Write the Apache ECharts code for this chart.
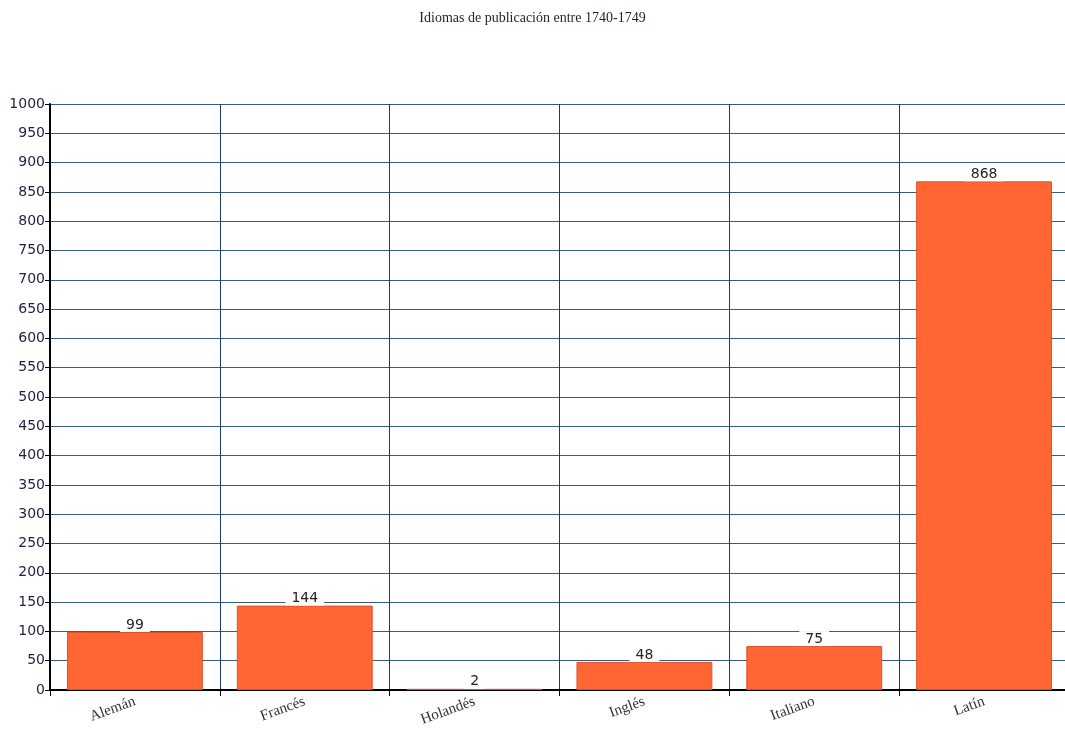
<!DOCTYPE html>
<html>
<head>
<meta charset="utf-8">
<script src="https://cdn.jsdelivr.net/npm/echarts@6/dist/echarts.min.js"></script>
<style>html,body{margin:0;padding:0;background:#fff}#main{width:1065px;height:729px}</style>
</head>
<body>
<div id="main"></div>
<script>
// datos del gráfico
var idiomas = ['Alemán', 'Francés', 'Holandés', 'Inglés', 'Italiano', 'Latín'];
var publicaciones = [99, 144, 2, 48, 75, 868];
var titulo = 'Idiomas de publicación entre 1740-1749';

var myChart = echarts.init(document.getElementById('main'));
var option = {
    animation: false,
    title: {
        text: titulo,
        left: 'center',
        top: 6,
        textStyle: { fontFamily: 'Liberation Serif', fontWeight: 'normal', fontSize: 14, color: '#2a1a2e' }
    },
    grid: { left: 50, top: 104, width: 1019, height: 586, outerBoundsMode: 'none' },
    xAxis: {
        type: 'category',
        data: idiomas,
        axisLine: { lineStyle: { color: '#000', width: 2 } },
        axisTick: { show: true, length: 6, lineStyle: { color: '#000' } },
        axisLabel: { rotate: 20, margin: 11, fontFamily: 'Liberation Serif', fontSize: 15, color: '#333' },
        splitLine: { show: true, lineStyle: { color: '#1f3a66', width: 1 } }
    },
    yAxis: {
        type: 'value',
        min: 0,
        max: 1000,
        interval: 50,
        axisLine: { show: true, lineStyle: { color: '#000', width: 2 } },
        axisTick: { show: true, length: 5, lineStyle: { color: '#000' } },
        axisLabel: {
            formatter: function (v) { return String(v); },
            fontFamily: 'DejaVu Sans', fontSize: 14, color: '#2a1a3e', margin: 5
        },
        splitLine: { show: true, lineStyle: { color: '#3a5a86', width: 1 } }
    },
    series: [{
        type: 'bar',
        data: publicaciones,
        barCategoryGap: '20%',
        itemStyle: { color: '#ff6633', borderColor: '#d9542b', borderWidth: 1 },
        label: {
            show: true,
            position: 'top',
            distance: 0,
            fontFamily: 'DejaVu Sans',
            fontSize: 14,
            color: '#222',
            backgroundColor: '#fff',
            padding: [1, 6, 0, 6]
        }
    }]
};
myChart.setOption(option);
</script>
</body>
</html>
